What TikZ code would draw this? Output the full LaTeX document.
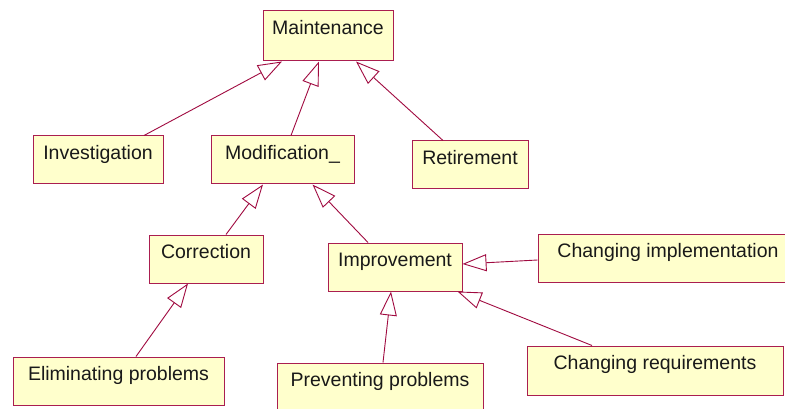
\documentclass[tikz,border=0pt]{standalone}
\usepackage{fontspec}
\setmainfont{Liberation Sans}
\usetikzlibrary{arrows.meta}
\definecolor{edgecol}{RGB}{160,10,64}
\definecolor{boxborder}{RGB}{170,30,80}
\definecolor{boxfill}{RGB}{255,255,204}
\begin{document}
\begin{tikzpicture}[x=1pt,y=-1pt,
  box/.style={draw=boxborder, fill=boxfill, line width=1pt, inner sep=0pt},
  lbl/.style={anchor=base, yshift=-24pt, inner sep=0pt, text=black!90, font=\fontsize{19.5}{23}\selectfont},
  gen/.style={draw=edgecol, line width=0.9pt, -{Triangle[open, length=24pt, width=17pt, line width=0.9pt]}}
]
\useasboundingbox[fill=white] (0,0) rectangle (785,409);
\node[box, minimum width=130pt, minimum height=50pt, label={[lbl]north:Maintenance}] (maint) at (328,36) {};
\node[box, minimum width=130pt, minimum height=48pt, label={[lbl]north:Investigation}] (inv) at (98,160) {};
\node[box, minimum width=143pt, minimum height=48pt, label={[lbl]north:Modification\_}] (mod) at (282.5,160) {};
\node[box, minimum width=116pt, minimum height=48pt, label={[lbl]north:Retirement}] (ret) at (470,165) {};
\node[box, minimum width=114pt, minimum height=48pt, label={[lbl]north:Correction}] (corr) at (206,259) {};
\node[box, minimum width=134pt, minimum height=48pt, label={[lbl]north:Improvement}] (imp) at (395,267) {};
\node[box, minimum width=260pt, minimum height=48pt, label={[lbl]north:Changing implementation}] (chimpl) at (668,258) {};
\node[box, minimum width=256pt, minimum height=49pt, label={[lbl]north:Changing requirements}] (chreq) at (655,370.5) {};
\node[box, minimum width=211pt, minimum height=48pt, label={[lbl]north:Eliminating problems}] (elim) at (118.5,381) {};
\node[box, minimum width=206pt, minimum height=48pt, label={[lbl]north:Preventing problems}] (prev) at (380,387) {};

\draw[gen] ([xshift=46pt]inv.north) -- ([xshift=-46pt]maint.south);
\draw[gen] ([xshift=8.5pt]mod.north) -- ([xshift=-9pt]maint.south);
\draw[gen] ([xshift=-27pt]ret.north) -- ([xshift=28pt]maint.south);
\draw[gen] ([xshift=20pt]corr.north) -- ([xshift=-19.5pt]mod.south);
\draw[gen] ([xshift=-27pt]imp.north) -- ([xshift=30pt]mod.south);
\draw[gen] ([xshift=17.5pt]elim.north) -- ([xshift=-18pt]corr.south);
\draw[gen] ([yshift=-2pt]chimpl.west) -- ([yshift=3pt]imp.east);
\draw[gen] ([xshift=3pt]prev.north) -- ([xshift=-4pt]imp.south);
\draw[gen] ([xshift=-63pt]chreq.north) -- ([xshift=-5pt]imp.south east);
\end{tikzpicture}
\end{document}
